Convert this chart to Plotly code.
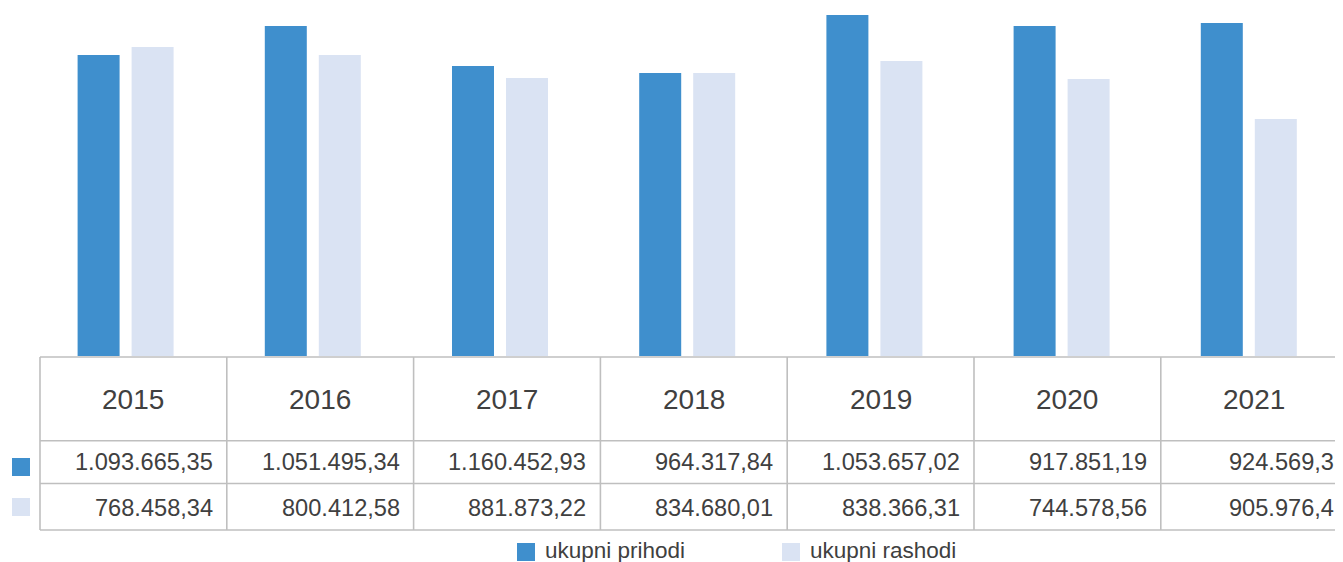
import plotly.graph_objects as go

# ---- data ----
years = ["2015", "2016", "2017", "2018", "2019", "2020", "2021"]
series_names = ["ukupni prihodi", "ukupni rashodi"]
# bar heights as drawn in the chart
prihodi_bars = [1014600, 1112400, 977500, 953900, 1149400, 1112400, 1122500]
rashodi_bars = [1041600, 1014600, 937100, 953900, 994400, 933700, 798900]
# data table values as printed under the chart
prihodi_table = ["1.093.665,35", "1.051.495,34", "1.160.452,93", "964.317,84",
                 "1.053.657,02", "917.851,19", "924.569,3"]
rashodi_table = ["768.458,34", "800.412,58", "881.873,22", "834.680,01",
                 "838.366,31", "744.578,56", "905.976,4"]

# ---- style ----
OFF = 8                      # page body margin
W, H = 1343 - OFF, 562 - OFF
BASE = 356                   # window pixel row of bar base
PLOT_H = BASE - OFF
C_DARK = "#3F8FCD"
C_LIGHT = "#DAE3F3"
TXT = "#404040"
GRID = "#BFBFBF"
FONT = "Liberation Sans, Arial, sans-serif"

px_per_cat = 187.2
first_center = 125.6 - OFF
x0 = -first_center / px_per_cat
x1 = x0 + W / px_per_cat

fig = go.Figure()
fig.add_trace(go.Bar(x=years, y=prihodi_bars, name=series_names[0],
                     marker=dict(color=C_DARK, line=dict(width=0))))
fig.add_trace(go.Bar(x=years, y=rashodi_bars, name=series_names[1],
                     marker=dict(color=C_LIGHT, line=dict(width=0))))


def px(xp):
    return (xp - OFF) / W


def py(yp):
    return (BASE - yp) / PLOT_H


shapes = []
annotations = []

# table geometry
tab_left = 40
col_w = 186.8
row_lines = [357, 440.7, 483.5, 530]
line = dict(color=GRID, width=1.6)

for yl in row_lines:
    shapes.append(dict(type="line", xref="paper", yref="paper",
                       x0=px(tab_left), x1=1.0, y0=py(yl), y1=py(yl), line=line))
for k in range(len(years) + 1):
    xb = tab_left + col_w * k
    if xb <= W + OFF:
        shapes.append(dict(type="line", xref="paper", yref="paper",
                           x0=px(xb), x1=px(xb), y0=py(row_lines[0]), y1=py(row_lines[-1]),
                           line=line))

for i, yr in enumerate(years):
    left = tab_left + col_w * i
    annotations.append(dict(text=yr, xref="paper", yref="paper",
                            x=px(left + col_w / 2), y=py(399.5), xanchor="center", yanchor="middle",
                            showarrow=False, font=dict(family=FONT, size=28, color=TXT)))
    annotations.append(dict(text=prihodi_table[i], xref="paper", yref="paper",
                            x=px(left + col_w - 12), y=py(462.5), xanchor="right", yanchor="middle",
                            showarrow=False, font=dict(family=FONT, size=23.6, color=TXT)))
    annotations.append(dict(text=rashodi_table[i], xref="paper", yref="paper",
                            x=px(left + col_w - 12), y=py(507.5), xanchor="right", yanchor="middle",
                            showarrow=False, font=dict(family=FONT, size=23.6, color=TXT)))

# row keys in the table
for (yt, c) in [(458, C_DARK), (498, C_LIGHT)]:
    shapes.append(dict(type="rect", xref="paper", yref="paper",
                       x0=px(12), x1=px(30), y0=py(yt), y1=py(yt + 18),
                       fillcolor=c, line=dict(width=0)))

# legend
for (xk, c, name) in [(517, C_DARK, series_names[0]), (782, C_LIGHT, series_names[1])]:
    shapes.append(dict(type="rect", xref="paper", yref="paper",
                       x0=px(xk), x1=px(xk + 18), y0=py(543), y1=py(561),
                       fillcolor=c, line=dict(width=0)))
    annotations.append(dict(text=name, xref="paper", yref="paper",
                            x=px(xk + 26), y=py(550), xanchor="left", yanchor="middle",
                            showarrow=False, font=dict(family=FONT, size=22.5, color=TXT)))

fig.update_layout(
    width=W, height=H,
    margin=dict(l=0, r=0, t=0, b=H - PLOT_H, pad=0),
    paper_bgcolor="white", plot_bgcolor="white",
    barmode="group", bargap=0.4231, bargroupgap=0.2222,
    showlegend=False,
    xaxis=dict(type="category", range=[x0, x1], showticklabels=False, showgrid=False,
               zeroline=False, showline=False, ticks="", fixedrange=True),
    yaxis=dict(range=[0, 1200000 * PLOT_H / 356], showticklabels=False, showgrid=False,
               zeroline=False, showline=False, ticks="", fixedrange=True),
    shapes=shapes, annotations=annotations,
    font=dict(family=FONT, color=TXT),
)

fig.write_html("out.html", config={"displayModeBar": False})
